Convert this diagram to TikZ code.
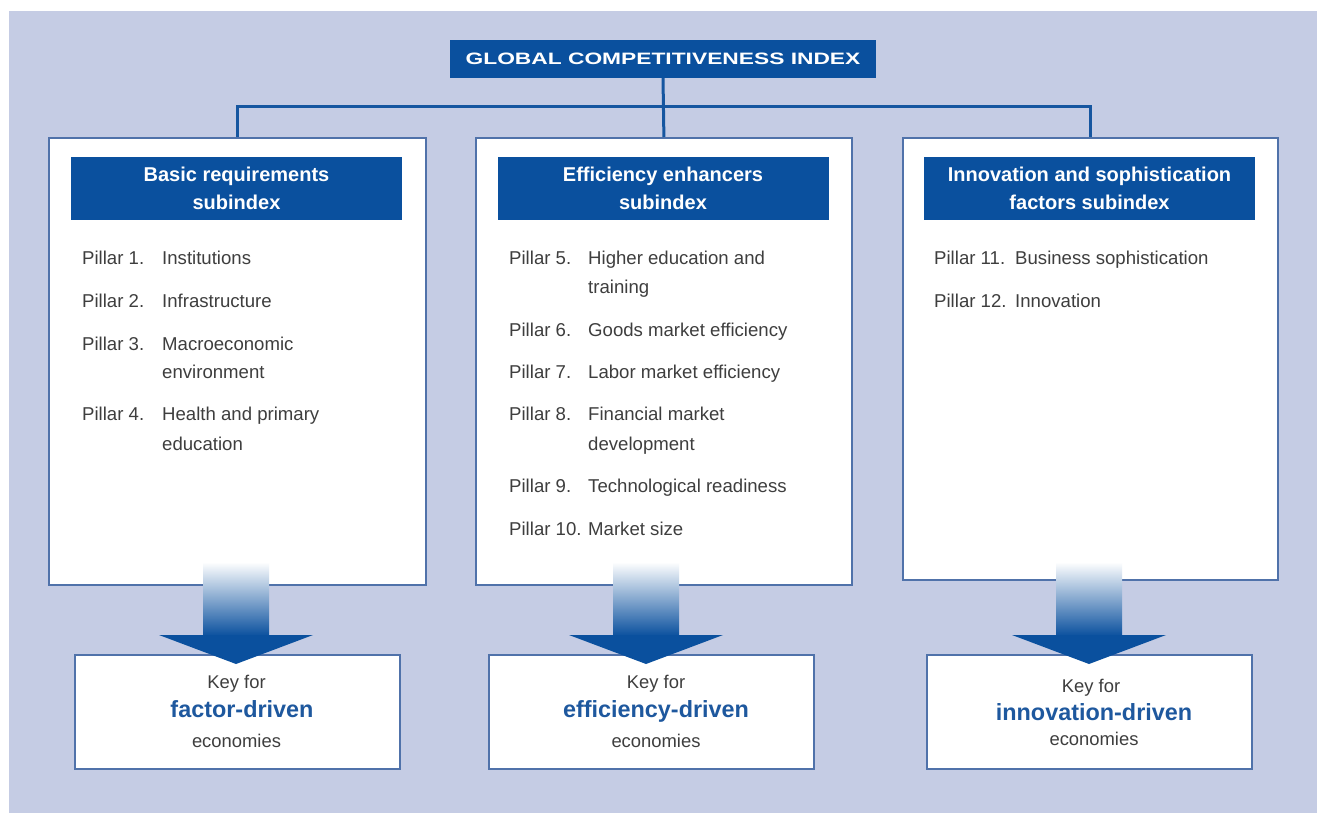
\documentclass[tikz,border=0pt]{standalone}
\usepackage{fontspec}
\setmainfont{Liberation Sans}
\usepackage{graphicx}
\definecolor{bgc}{RGB}{197,204,228}
\definecolor{dblue}{RGB}{10,80,158}
\definecolor{cblue}{RGB}{22,86,160}
\definecolor{bordc}{RGB}{80,114,170}
\definecolor{tgray}{RGB}{62,62,62}
\definecolor{kblue}{RGB}{30,88,158}
\begin{document}
\begin{tikzpicture}[x=1pt,y=-1pt,
  mainbox/.style={draw=bordc, line width=1.8pt, fill=white, anchor=north west, inner sep=0, minimum height=447},
  hdr/.style={fill=dblue, text=white, font=\bfseries\fontsize{20}{28}\selectfont, align=center, minimum width=331, minimum height=63, inner sep=0, anchor=north},
  pl/.style={anchor=base west, inner sep=0, text=tgray, font=\fontsize{18.6}{21}\selectfont},
  keybox/.style={draw=bordc, line width=1.8pt, fill=white, minimum width=325, minimum height=114, anchor=north west, inner sep=0},
  kt/.style={anchor=base, inner sep=0, text=tgray, font=\fontsize{18.4}{21}\selectfont},
  kb/.style={anchor=base, inner sep=0, text=kblue, font=\bfseries\fontsize{23.4}{25}\selectfont},
  conn/.style={draw=cblue, line width=3pt},
  arrowhead/.style={fill=dblue},
  arrowshaft/.style={top color=white, bottom color=dblue}]
\useasboundingbox (0,0) rectangle (1317,813);
\fill[bgc] (9,11) rectangle (1317,813);

% title
\node[fill=dblue, minimum width=426, minimum height=38, inner sep=0, text=white,
  font=\bfseries\fontsize{16.5}{16}\selectfont] (title) at (663,59)
  {\scalebox{1.38}[1]{GLOBAL COMPETITIVENESS INDEX}};

% boxes
\node[mainbox, minimum width=377] (A) at (48,137) {};
\node[mainbox, minimum width=376] (B) at (475,137) {};
\node[mainbox, minimum width=375, minimum height=442] (C) at (902,137) {};

% connectors
\coordinate (hub) at (663,107);
\draw[conn] (title.south) -- (B.north);
\draw[conn] (A.north) -- (A.north |- hub) -- (C.north |- hub) -- (C.north);

% headers
\node[hdr] (hA) at (236.5,157) {Basic requirements\\subindex};
\node[hdr] (hB) at (663,157) {Efficiency enhancers\\subindex};
\node[hdr] (hC) at (1089.5,157) {Innovation and sophistication\\factors subindex};

% pillars left
\node[pl] (l1) at (82,265) {Pillar 1.};   \node[pl] (t1) at (162,265) {Institutions};
\node[pl] (l2) at (82,307) {Pillar 2.};   \node[pl] (t2) at (162,307) {Infrastructure};
\node[pl] (l3) at (82,350) {Pillar 3.};   \node[pl] (t3) at (162,350) {Macroeconomic};
\node[pl] (t3b) at (162,378) {environment};
\node[pl] (l4) at (82,420) {Pillar 4.};   \node[pl] (t4) at (162,420) {Health and primary};
\node[pl] (t4b) at (162,450) {education};

% pillars middle
\node[pl] (l5) at (509,265) {Pillar 5.};  \node[pl] (t5) at (588,265) {Higher education and};
\node[pl] (t5b) at (588,293) {training};
\node[pl] (l6) at (509,336) {Pillar 6.};  \node[pl] (t6) at (588,336) {Goods market efficiency};
\node[pl] (l7) at (509,378) {Pillar 7.};  \node[pl] (t7) at (588,378) {Labor market efficiency};
\node[pl] (l8) at (509,420) {Pillar 8.};  \node[pl] (t8) at (588,420) {Financial market};
\node[pl] (t8b) at (588,450) {development};
\node[pl] (l9) at (509,492) {Pillar 9.};  \node[pl] (t9) at (588,492) {Technological readiness};
\node[pl] (l10) at (509,535) {Pillar 10.}; \node[pl] (t10) at (588,535) {Market size};

% pillars right
\node[pl] (l11) at (934,265) {Pillar 11.}; \node[pl] (t11) at (1015,265) {Business sophistication};
\node[pl] (l12) at (934,307) {Pillar 12.}; \node[pl] (t12) at (1015,307) {Innovation};

% key boxes
\node[keybox] (kA) at (74,654) {};
\node[keybox] (kB) at (488,654) {};
\node[keybox] (kC) at (926,654) {};

% arrows
\foreach \cx in {236,646,1089} {
  \shade[arrowshaft] (\cx-33,562) rectangle (\cx+33,636);
  \fill[arrowhead] (\cx-77,635) -- (\cx+77,635) -- (\cx,664) -- cycle;
}

% key texts
\node[kt] (kA1) at (236.5,688) {Key for};
\node[kb] (kA2) at (242,717) {factor-driven};
\node[kt] (kA3) at (236.5,747) {economies};
\node[kt] (kB1) at (656,688) {Key for};
\node[kb] (kB2) at (656,717) {efficiency-driven};
\node[kt] (kB3) at (656,747) {economies};
\node[kt] (kC1) at (1091,692) {Key for};
\node[kb] (kC2) at (1094,720) {innovation-driven};
\node[kt] (kC3) at (1094,745) {economies};
\end{tikzpicture}
\end{document}
